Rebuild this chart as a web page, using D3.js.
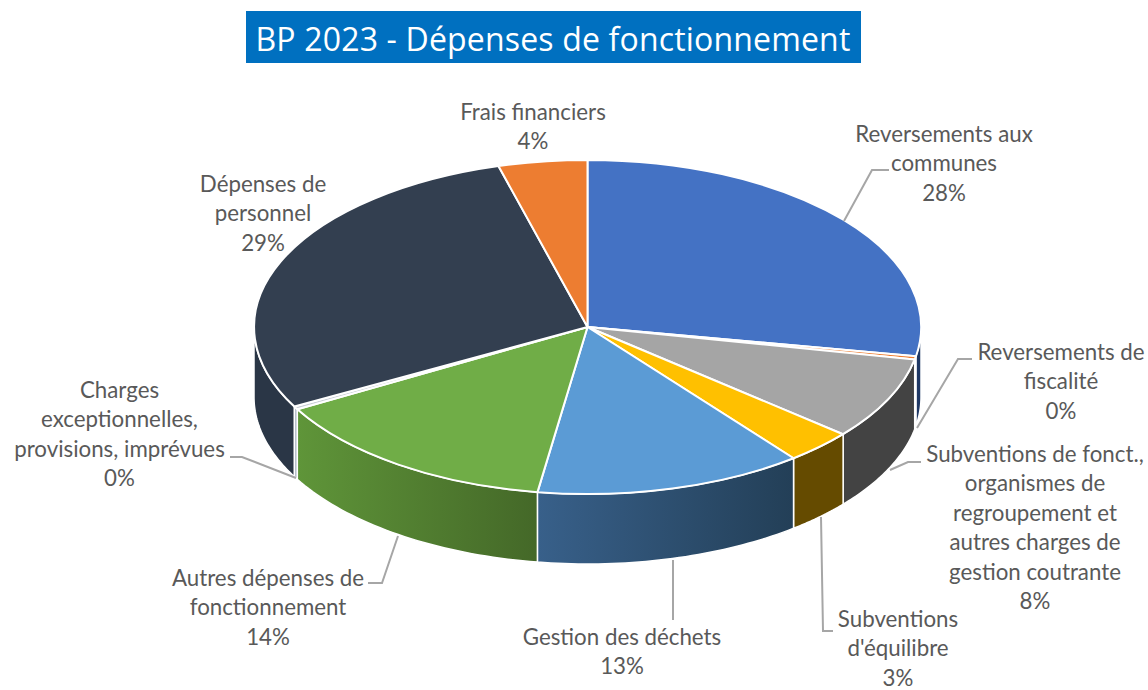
<!DOCTYPE html>
<html>
<head>
<meta charset="utf-8">
<script src="https://cdn.jsdelivr.net/npm/d3@7"></script>
<style>
  html, body { margin: 0; padding: 0; background: #fff; }
  svg { display: block; }
</style>
</head>
<body>
<div id="chart"></div>
<script>
const categories = [
  "Reversements aux communes",
  "Reversements de fiscalité",
  "Subventions de fonct., organismes de regroupement et autres charges de gestion courante",
  "Subventions d'équilibre",
  "Gestion des déchets",
  "Autres dépenses de fonctionnement",
  "Charges exceptionnelles, provisions, imprévues",
  "Dépenses de personnel",
  "Frais financiers"
];
const values = [27.8, 0.3, 8.0, 3.3, 13.0, 14.4, 0.3, 28.6, 4.3];
const labelLines = [
  ["Reversements aux", "communes"],
  ["Reversements de", "fiscalité"],
  ["Subventions de fonct.,", "organismes de", "regroupement et", "autres charges de", "gestion coutrante"],
  ["Subventions", "d'équilibre"],
  ["Gestion des déchets"],
  ["Autres dépenses de", "fonctionnement"],
  ["Charges", "exceptionnelles,", "provisions, imprévues"],
  ["Dépenses de", "personnel"],
  ["Frais financiers"]
];
const topColors = ["#4472c4", "#ed7d31", "#a5a5a5", "#ffc000", "#5b9bd5", "#70ad47", "#c9ced6", "#333f50", "#ed7d31"];
const sideFrom = ["#1f3864", "#c55a11", "#434343", "#654b00", "#38608a", "#5f9539", "#b8c0cc", "#2a3646", "#a9561f"];
const sideTo = ["#1f3864", "#c55a11", "#434343", "#654b00", "#233f57", "#446828", "#b8c0cc", "#2a3646", "#a9561f"];

// where each label block sits and its leader line (same order as categories)
const labelPos = [
  { x: 944, y: 142, leader: [[844, 221], [872, 170], [889, 170]] },
  { x: 1061, y: 360, leader: [[917, 428], [958, 359], [972, 359]] },
  { x: 1035, y: 462, leader: [[890, 470], [908, 462], [921, 462]] },
  { x: 898, y: 627, leader: [[821, 517], [823, 631], [833, 631]] },
  { x: 622, y: 645, leader: [[673, 560], [673, 620]] },
  { x: 268, y: 586, leader: [[398, 536], [382, 583], [368, 583]] },
  { x: 119.5, y: 398, leader: [[296, 478], [242, 457], [230, 457]] },
  { x: 263, y: 192, leader: null },
  { x: 533, y: 120, leader: null }
];

const width = 1148;
const height = 690;
const cx = 587.5;
const cy = 327;
const rx = 333.5;
const ry = 167;
const depth = 70;
const lineHeight = 29.4;

const svg = d3.select("#chart")
  .append("svg")
  .attr("width", width)
  .attr("height", height)
  .attr("viewBox", `0 0 ${width} ${height}`);

// title banner
svg.append("rect")
  .attr("x", 246).attr("y", 11)
  .attr("width", 615).attr("height", 52)
  .attr("fill", "#0070c0");
svg.append("text")
  .attr("x", 553).attr("y", 50.5)
  .attr("text-anchor", "middle")
  .attr("fill", "#fff")
  .style("font-family", "'Open Sans', sans-serif")
  .style("font-size", "32px")
  .style("letter-spacing", "0.17px")
  .text("BP 2023 - Dépenses de fonctionnement");

const data = categories.map((name, i) => ({ name, value: values[i], index: i }));
const total = d3.sum(values);
const pct = d3.format(".0%");

const pie = d3.pie().sort(null).value(d => d.value);
const slices = pie(data);

const arc = d3.arc().innerRadius(0).outerRadius(1);
const px = a => cx + rx * Math.sin(a);
const py = a => cy - ry * Math.cos(a);

const defs = svg.append("defs");

// front wall of the cake: only the part of each slice between 3 and 9 o'clock shows
const sideLine = d3.line().x(d => d[0]).y(d => d[1]);
const sides = slices
  .map(s => {
    const a0 = Math.max(s.startAngle, Math.PI / 2);
    const a1 = Math.min(s.endAngle, 3 * Math.PI / 2);
    return { s, a0, a1 };
  })
  .filter(d => d.a1 > d.a0);

sides.forEach(d => {
  const i = d.s.data.index;
  const angles = d3.range(0, 41).map(k => d.a0 + (d.a1 - d.a0) * k / 40);
  const upper = angles.map(a => [px(a), py(a)]);
  const lower = angles.slice().reverse().map(a => [px(a), py(a) + depth]);
  d.path = sideLine(upper.concat(lower)) + "Z";
  const grad = defs.append("linearGradient")
    .attr("id", `side-${i}`)
    .attr("gradientUnits", "userSpaceOnUse")
    .attr("x1", d3.max(upper, p => p[0])).attr("x2", d3.min(upper, p => p[0]))
    .attr("y1", 0).attr("y2", 0);
  grad.append("stop").attr("offset", 0).attr("stop-color", sideTo[i]);
  grad.append("stop").attr("offset", 1).attr("stop-color", sideFrom[i]);
});

svg.append("g").selectAll("path")
  .data(sides)
  .join("path")
  .attr("d", d => d.path)
  .attr("fill", d => `url(#side-${d.s.data.index})`)
  .attr("stroke", "#fff")
  .attr("stroke-width", 1.5)
  .attr("stroke-linejoin", "round");

// top face: unit pie squashed into an ellipse
svg.append("g")
  .attr("transform", `translate(${cx},${cy}) scale(${rx},${ry})`)
  .selectAll("path")
  .data(slices)
  .join("path")
  .attr("d", arc)
  .attr("fill", d => topColors[d.data.index])
  .attr("stroke", "#fff")
  .attr("stroke-width", 2)
  .attr("stroke-linejoin", "round")
  .attr("vector-effect", "non-scaling-stroke");

// leader lines
svg.append("g").selectAll("path")
  .data(labelPos.filter(d => d.leader))
  .join("path")
  .attr("d", d => sideLine(d.leader))
  .attr("fill", "none")
  .attr("stroke", "#a6a6a6")
  .attr("stroke-width", 2);

// labels, category lines and then the share
const labels = svg.append("g")
  .style("font-family", "Lato, sans-serif")
  .style("font-size", "22.3px")
  .attr("fill", "#595959")
  .attr("text-anchor", "middle")
  .selectAll("text")
  .data(data)
  .join("text")
  .attr("x", d => labelPos[d.index].x)
  .attr("y", d => labelPos[d.index].y);

labels.selectAll("tspan")
  .data(d => labelLines[d.index].concat(pct(d.value / total)).map(t => ({ t, d })))
  .join("tspan")
  .attr("x", o => labelPos[o.d.index].x)
  .attr("y", (o, j) => labelPos[o.d.index].y + j * lineHeight)
  .text(o => o.t);
</script>
</body>
</html>
